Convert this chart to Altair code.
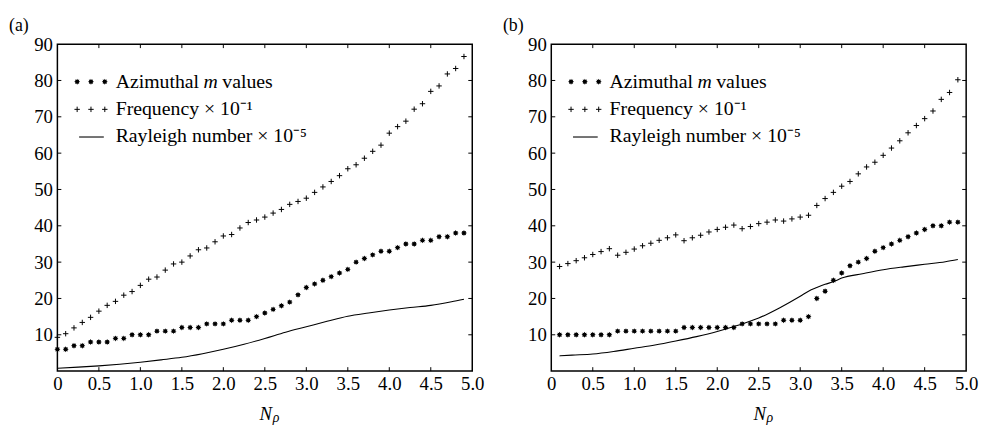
import math
import altair as alt
import pandas as pd

# ---------------- data ----------------
x_a = [round(0.1 * i, 1) for i in range(0, 50)]          # 0.0 .. 4.9
m_a = [6, 6, 7, 7, 8, 8, 8, 9, 9, 10,
       10, 10, 11, 11, 11, 12, 12, 12, 13, 13,
       13, 14, 14, 14, 15, 16, 17, 18, 19, 21,
       23, 24, 25, 26, 27, 28, 30, 31, 32, 33,
       33, 34, 35, 35, 36, 36, 37, 37, 38, 38]
f_a = [9.3, 10.3, 11.9, 13.4, 14.8, 16.5, 18.1, 19.2, 20.9, 21.9,
       23.6, 25.3, 25.9, 27.8, 29.5, 30.0, 31.7, 33.4, 33.9, 35.6,
       37.2, 37.6, 39.4, 40.9, 41.6, 42.4, 43.5, 44.5, 45.9, 46.7,
       47.6, 49.2, 50.7, 52.2, 53.8, 55.7, 56.8, 58.6, 60.5, 62.2,
       65.5, 67.3, 68.8, 72.1, 73.6, 77.0, 78.5, 81.8, 83.3, 86.6]
ra_x = [0.0, 0.25, 0.5, 0.75, 1.0, 1.25, 1.5, 1.75, 2.0, 2.25, 2.5,
        2.75, 3.0, 3.25, 3.5, 3.75, 4.0, 4.25, 4.5, 4.75, 4.9]
ra_y = [0.8, 1.1, 1.45, 1.9, 2.45, 3.1, 3.8, 4.8, 6.0, 7.4, 9.0,
        10.7, 12.2, 13.7, 15.1, 16.0, 16.8, 17.5, 18.1, 19.1, 19.8]

x_b = [round(0.1 * i, 1) for i in range(1, 50)]          # 0.1 .. 4.9
m_b = [10, 10, 10, 10, 10, 10, 10,
       11, 11, 11, 11, 11, 11, 11, 11,
       12, 12, 12, 12, 12, 12, 12,
       13, 13, 13, 13, 13,
       14, 14, 14,
       15,
       20, 22, 25, 27, 29, 30, 31,
       33, 34, 35, 36, 37, 38, 39, 40, 40, 41, 41]
f_b = [28.8, 29.6, 30.4, 31.2, 32.1, 32.9, 33.7, 31.9, 32.7,
       33.6, 34.5, 35.2, 36.0, 36.7, 37.5, 35.9, 36.7, 37.4, 38.3,
       39.0, 39.6, 40.2, 39.2, 39.8, 40.6, 41.0, 41.6, 41.3, 41.9,
       42.4, 42.9, 45.6, 47.5, 49.2, 50.9, 52.2, 54.3, 56.2, 57.5,
       59.4, 61.4, 63.4, 65.6, 67.6, 69.5, 71.6, 74.8, 76.7, 80.2]
rb_x = [0.1, 0.25, 0.5, 0.75, 1.0, 1.25, 1.5, 1.75, 2.0, 2.25, 2.5, 2.75,
        3.0, 3.1, 3.2, 3.3, 3.4, 3.5, 3.75, 4.0, 4.25, 4.5, 4.75, 4.9]
rb_y = [4.2, 4.4, 4.7, 5.4, 6.3, 7.2, 8.3, 9.5, 10.9, 12.6, 14.6, 17.4,
        20.6, 22.0, 23.0, 23.9, 24.6, 25.6, 26.8, 27.9, 28.7, 29.4, 30.1, 30.7]

x_ticks = [0, 0.5, 1.0, 1.5, 2.0, 2.5, 3.0, 3.5, 4.0, 4.5, 5.0]
y_ticks = [10, 20, 30, 40, 50, 60, 70, 80, 90]

# ---------------- style ----------------
W, H = 420, 331
FONT = "Times New Roman, Liberation Serif, serif"
FS = 19      # tick labels
LFS = 20     # legend text

pts = []
for k in range(16):
    r = 1.0 if k % 2 == 0 else 0.62
    a = math.pi * k / 8
    pts.append(f"{r * math.sin(a):.3f},{-r * math.cos(a):.3f}")
STAR = "M" + "L".join(pts) + "Z"
PLUS = "M-1,0L1,0M0,-1L0,1"
SSIZE = 36

xs = alt.Scale(domain=[0, 5], nice=False, zero=False)
ys = alt.Scale(domain=[0, 90], nice=False, zero=False)

XAXIS = alt.Axis(values=x_ticks, labelExpr="datum.value == 0 ? '0' : format(datum.value, '.1f')",
                 title=None, grid=False, domain=False, ticks=False, labelFont=FONT,
                 labelFontSize=FS, labelColor="black", labelPadding=4,
                 labelFlush=False, labelOverlap=False)
YAXIS = alt.Axis(values=y_ticks, format="d", title=None, grid=False, domain=False,
                 ticks=False, labelFont=FONT, labelFontSize=FS, labelColor="black",
                 labelPadding=5, labelFlush=False, labelOverlap=False)


def panel(label, xv, mv, fv, rx, ry):
    pts_df = pd.DataFrame({"x": xv, "m": mv, "f": fv})
    ray_df = pd.DataFrame({"x": rx, "r": ry})
    xt = pd.DataFrame({"x": x_ticks[1:-1]})
    yt = pd.DataFrame({"y": y_ticks[:-1]})
    one = pd.DataFrame({"k": [0]})

    X = alt.X("x:Q", scale=xs, axis=XAXIS)

    stars = alt.Chart(pts_df).mark_point(shape=STAR, filled=True, color="black", size=SSIZE,
                                         opacity=1).encode(
        x=X, y=alt.Y("m:Q", scale=ys, axis=YAXIS))
    plus = alt.Chart(pts_df).mark_point(shape=PLUS, filled=False, color="black", size=30,
                                        strokeWidth=1, opacity=1).encode(
        x=X, y=alt.Y("f:Q", scale=ys, axis=YAXIS))
    line = alt.Chart(ray_df).mark_line(color="black", strokeWidth=1.1,
                                       interpolate="monotone").encode(
        x=X, y=alt.Y("r:Q", scale=ys, axis=YAXIS))

    tb = alt.Chart(xt).mark_rule(color="black", strokeWidth=1).encode(
        x=X, y=alt.value(H), y2=alt.value(H - 4))
    tt = alt.Chart(xt).mark_rule(color="black", strokeWidth=1).encode(
        x=X, y=alt.value(0), y2=alt.value(4))
    tl = alt.Chart(yt).mark_rule(color="black", strokeWidth=1).encode(
        y=alt.Y("y:Q", scale=ys, axis=YAXIS), x=alt.value(0), x2=alt.value(4))
    tr = alt.Chart(yt).mark_rule(color="black", strokeWidth=1).encode(
        y=alt.Y("y:Q", scale=ys, axis=YAXIS), x=alt.value(W), x2=alt.value(W - 4))

    def sym(shape, size, filled, x, y):
        return alt.Chart(one).mark_point(shape=shape, size=size, filled=filled, color="black",
                                         strokeWidth=1, opacity=1).encode(
            x=alt.value(x), y=alt.value(y))

    def txt(t, x, y, size=LFS, style="normal", align="left"):
        return alt.Chart(one).mark_text(text=t, font=FONT, fontSize=size, fontStyle=style,
                                        align=align, baseline="middle", color="black").encode(
            x=alt.value(x), y=alt.value(y))

    leg = [
        sym(STAR, SSIZE, True, 20, 38), sym(STAR, SSIZE, True, 34, 38), sym(STAR, SSIZE, True, 48, 38),
        txt("Azimuthal", 59, 38), txt("m", 148, 38, style="italic"), txt("values", 167, 38),
        sym(PLUS, 30, False, 20, 66), sym(PLUS, 30, False, 34, 66), sym(PLUS, 30, False, 48, 66),
        txt("Frequency × 10⁻¹", 59, 66),
        alt.Chart(one).mark_rule(color="black", strokeWidth=1.1).encode(
            x=alt.value(22), x2=alt.value(47), y=alt.value(94)),
        txt("Rayleigh number × 10⁻⁵", 59, 93),
        txt(label, -49, -18, size=18),
        txt("N", W / 2 + 1, H + 43, size=19, style="italic", align="center"),
        txt("ρ", W / 2 + 8, H + 48, size=14, style="italic"),
    ]

    return alt.layer(stars, plus, line, tb, tt, tl, tr, *leg).properties(width=W, height=H)


pa = panel("(a)", x_a, m_a, f_a, ra_x, ra_y)
pb = panel("(b)", x_b, m_b, f_b, rb_x, rb_y)

chart = alt.hconcat(pa, pb, spacing=17).properties(
    padding={"left": 0, "top": 6, "right": 0, "bottom": 0}
).configure(background="white").configure_view(stroke="black", strokeWidth=1.5)

chart.save("out.html", embed_options={"renderer": "svg", "actions": False})
